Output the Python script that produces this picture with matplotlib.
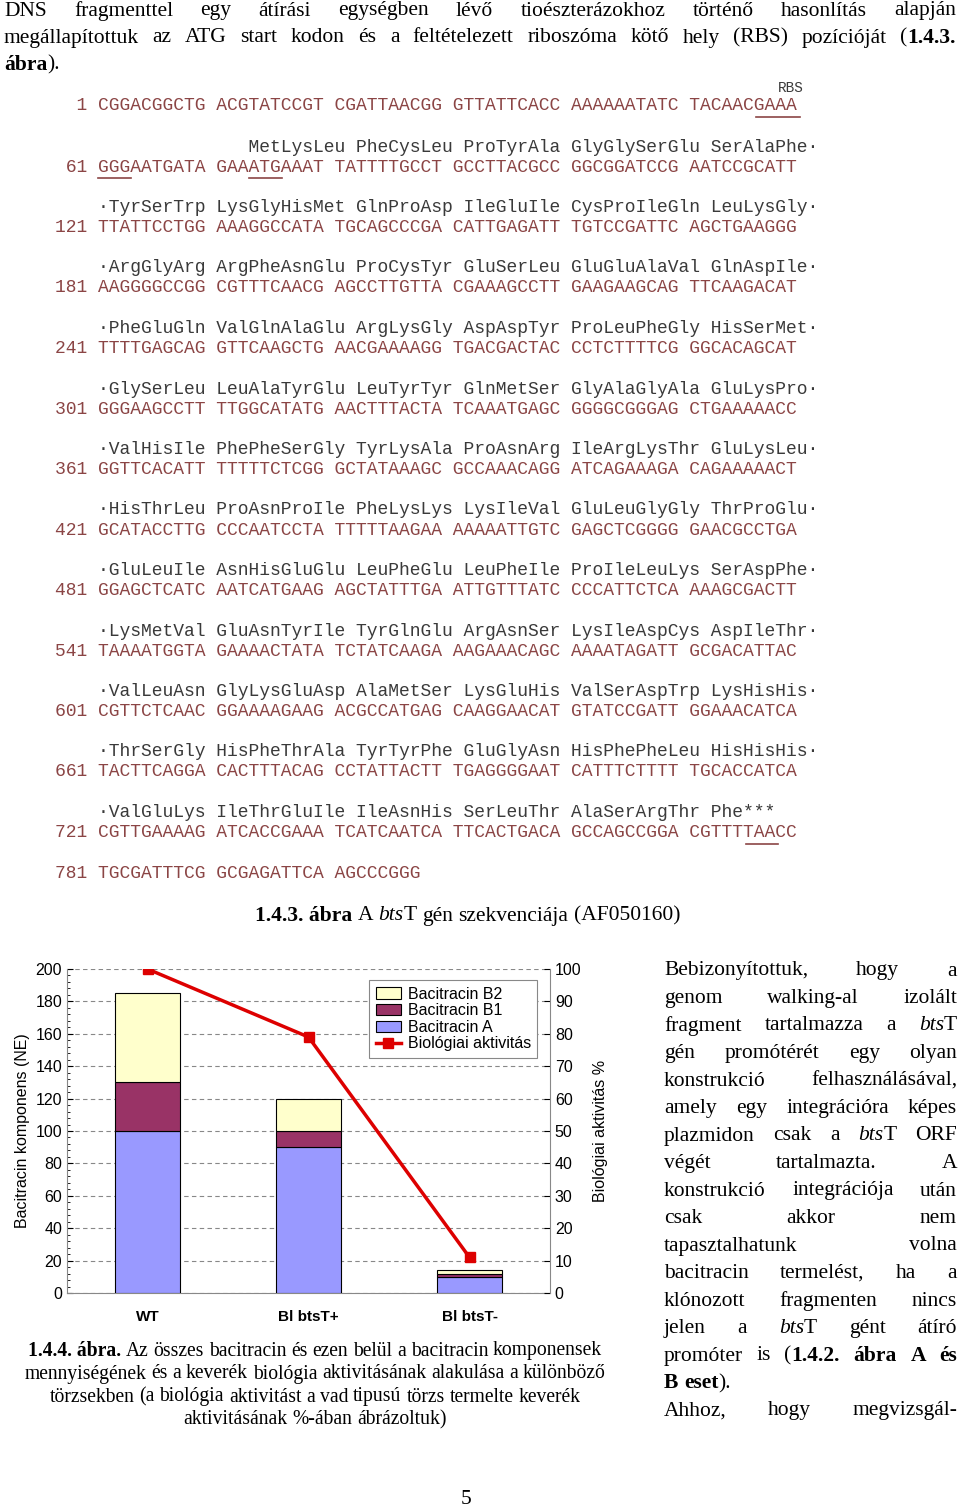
import matplotlib
matplotlib.use("Agg")
import matplotlib.pyplot as plt
import numpy as np

W, H = 960, 1509
SERIF = "Liberation Serif"
MONO = "Liberation Mono"
SANS = "Liberation Sans"

# ── chart data ───────────────────────────────────────────────────────────────
strains = ["WT", "Bl btsT+", "Bl btsT-"]
bac_a = [100, 90, 10]
bac_b1 = [30, 10, 2]
bac_b2 = [55, 20, 2]
activity = [100, 79, 11]

# ── sequence text ────────────────────────────────────────────────────────────
dna_start = [1, 61, 121, 181, 241, 301, 361, 421, 481, 541, 601, 661, 721, 781]
dna_rows = [
    "CGGACGGCTG ACGTATCCGT CGATTAACGG GTTATTCACC AAAAAATATC TACAACGAAA",
    "GGGAATGATA GAAATGAAAT TATTTTGCCT GCCTTACGCC GGCGGATCCG AATCCGCATT",
    "TTATTCCTGG AAAGGCCATA TGCAGCCCGA CATTGAGATT TGTCCGATTC AGCTGAAGGG",
    "AAGGGGCCGG CGTTTCAACG AGCCTTGTTA CGAAAGCCTT GAAGAAGCAG TTCAAGACAT",
    "TTTTGAGCAG GTTCAAGCTG AACGAAAAGG TGACGACTAC CCTCTTTTCG GGCACAGCAT",
    "GGGAAGCCTT TTGGCATATG AACTTTACTA TCAAATGAGC GGGGCGGGAG CTGAAAAACC",
    "GGTTCACATT TTTTTCTCGG GCTATAAAGC GCCAAACAGG ATCAGAAAGA CAGAAAAACT",
    "GCATACCTTG CCCAATCCTA TTTTTAAGAA AAAAATTGTC GAGCTCGGGG GAACGCCTGA",
    "GGAGCTCATC AATCATGAAG AGCTATTTGA ATTGTTTATC CCCATTCTCA AAAGCGACTT",
    "TAAAATGGTA GAAAACTATA TCTATCAAGA AAGAAACAGC AAAATAGATT GCGACATTAC",
    "CGTTCTCAAC GGAAAAGAAG ACGCCATGAG CAAGGAACAT GTATCCGATT GGAAACATCA",
    "TACTTCAGGA CACTTTACAG CCTATTACTT TGAGGGGAAT CATTTCTTTT TGCACCATCA",
    "CGTTGAAAAG ATCACCGAAA TCATCAATCA TTCACTGACA GCCAGCCGGA CGTTTTAACC",
    "TGCGATTTCG GCGAGATTCA AGCCCGGG",
]
prot_rows = [
    None,
    "                  MetLysLeu PheCysLeu ProTyrAla GlyGlySerGlu SerAlaPhe·",
    "    ·TyrSerTrp LysGlyHisMet GlnProAsp IleGluIle CysProIleGln LeuLysGly·",
    "    ·ArgGlyArg ArgPheAsnGlu ProCysTyr GluSerLeu GluGluAlaVal GlnAspIle·",
    "    ·PheGluGln ValGlnAlaGlu ArgLysGly AspAspTyr ProLeuPheGly HisSerMet·",
    "    ·GlySerLeu LeuAlaTyrGlu LeuTyrTyr GlnMetSer GlyAlaGlyAla GluLysPro·",
    "    ·ValHisIle PhePheSerGly TyrLysAla ProAsnArg IleArgLysThr GluLysLeu·",
    "    ·HisThrLeu ProAsnProIle PheLysLys LysIleVal GluLeuGlyGly ThrProGlu·",
    "    ·GluLeuIle AsnHisGluGlu LeuPheGlu LeuPheIle ProIleLeuLys SerAspPhe·",
    "    ·LysMetVal GluAsnTyrIle TyrGlnGlu ArgAsnSer LysIleAspCys AspIleThr·",
    "    ·ValLeuAsn GlyLysGluAsp AlaMetSer LysGluHis ValSerAspTrp LysHisHis·",
    "    ·ThrSerGly HisPheThrAla TyrTyrPhe GluGlyAsn HisPhePheLeu HisHisHis·",
    "    ·ValGluLys IleThrGluIle IleAsnHis SerLeuThr AlaSerArgThr Phe***",
    None,
]
# (row, first column, n chars) of underlined motifs, columns counted in the full line
underlines = [(0, 65, 4), (1, 4, 3), (1, 18, 3), (12, 64, 3)]

fig = plt.figure(figsize=(W / 100, H / 100), dpi=100)
fig.patch.set_facecolor("white")
renderer = fig.canvas.get_renderer()


def fx(x):
    return x / W


def fy(y):
    return 1 - y / H


def put_words(words, x0, y, size, x1=None, family=SERIF, color="black"):
    """words: list of words, each a list of (text, weight, style) pieces."""
    objs = []
    widths = []
    for word in words:
        wobjs = []
        ww = 0
        for txt, wt, st in word:
            t = fig.text(0, fy(y), txt, fontsize=size, family=family, weight=wt,
                         style=st, color=color, va="center", ha="left")
            w = t.get_window_extent(renderer).width
            wobjs.append((t, w))
            ww += w
        objs.append(wobjs)
        widths.append(ww)
    space = size * 100 / 72 * 0.25
    if x1 is not None and len(words) > 1:
        space = (x1 - x0 - sum(widths)) / (len(words) - 1)
    x = x0
    for wobjs in objs:
        for t, w in wobjs:
            t.set_x(fx(x))
            x += w
        x += space
    return x


def N(s):
    return [(s, "normal", "normal")]


def plain(line):
    return [N(w) for w in line.split()]


# ── header paragraph ─────────────────────────────────────────────────────────
HS = 15.5
put_words(plain("DNS fragmenttel egy átírási egységben lévő tioészterázokhoz történő hasonlítás alapján"),
          4, 11, HS, 956)
put_words(plain("megállapítottuk az ATG start kodon és a feltételezett riboszóma kötő hely (RBS) pozícióját")
          + [[("(", "normal", "normal"), ("1.4.3.", "bold", "normal")]], 4, 38, HS, 956)
put_words([[("ábra", "bold", "normal"), (").", "normal", "normal")]], 4, 65, HS)

# ── sequence listing ─────────────────────────────────────────────────────────
MS = 12.95
CW = MS * 100 / 72 * 0.6
X0 = 55
DNA_C = "#8b4545"
PROT_C = "#3a3a3a"
dna_y = [106] + [167 + 60.5 * i for i in range(12)] + [874]
fig.text(fx(X0 + CW * 67), fy(88), "RBS", family=MONO, fontsize=MS * 0.8,
         color=PROT_C, va="center", ha="left")
for i, (n, row) in enumerate(zip(dna_start, dna_rows)):
    fig.text(fx(X0), fy(dna_y[i]), f"{n:>3} {row}", family=MONO, fontsize=MS,
             color=DNA_C, va="center", ha="left")
    if prot_rows[i]:
        fig.text(fx(X0), fy(dna_y[i] - 20), prot_rows[i], family=MONO, fontsize=MS,
                 color=PROT_C, va="center", ha="left")
for r, c, n in underlines:
    y = dna_y[r] + 11
    fig.add_artist(plt.Line2D([fx(X0 + CW * c), fx(X0 + CW * (c + n))], [fy(y), fy(y)],
                              color=DNA_C, lw=1.2))

# caption of the sequence
put_words([[("1.4.3. ábra", "bold", "normal")], N("A"),
           [("bts", "normal", "italic"), ("T", "normal", "normal")], N("gén"),
           N("szekvenciája"), [("(AF050160)", "normal", "normal")]], 255, 916, HS)

# ── chart ────────────────────────────────────────────────────────────────────
ax = fig.add_axes([fx(67), fy(1293), (550 - 67) / W, (1293 - 969) / H])
x = np.arange(len(strains))
bw = 0.4
ax.bar(x, bac_a, bw, color="#9999ff", edgecolor="black", lw=0.8, label="Bacitracin A", zorder=3)
ax.bar(x, bac_b1, bw, bottom=bac_a, color="#993366", edgecolor="black", lw=0.8,
       label="Bacitracin B1", zorder=3)
ax.bar(x, bac_b2, bw, bottom=np.add(bac_a, bac_b1), color="#ffffcc", edgecolor="black",
       lw=0.8, label="Bacitracin B2", zorder=3)
ax.set_xlim(-0.5, 2.5)
ax.set_ylim(0, 200)
ax.set_yticks(range(0, 201, 20))
ax.set_yticks(range(0, 201, 4), minor=True)
ax.yaxis.grid(True, ls=(0, (4, 3)), color="#888888", lw=0.8)
ax.set_axisbelow(True)
ax.set_xticks(x)
ax.set_xticklabels(strains, fontsize=11, fontweight="bold", family=SANS)
ax.tick_params(axis="x", length=0, pad=12)
ax.tick_params(axis="y", labelsize=11.5, direction="in", length=4)
ax.tick_params(axis="y", which="minor", direction="in", length=2)
for lab in ax.get_yticklabels():
    lab.set_family(SANS)
for s in ["top", "right"]:
    ax.spines[s].set_visible(False)
ax.spines["left"].set_color("#888888")
ax.spines["bottom"].set_color("#888888")
ax.set_ylabel("Bacitracin komponens (NE)", fontsize=11.5, family=SANS, labelpad=4)

ax2 = ax.twinx()
ax2.plot(x, activity, color="#dd0000", lw=2.5, marker="s", ms=7, label="Biológiai aktivitás",
         zorder=5)
ax2.set_ylim(0, 100)
ax2.set_yticks(range(0, 101, 10))
ax2.tick_params(axis="y", labelsize=11.5, direction="in", length=4)
for lab in ax2.get_yticklabels():
    lab.set_family(SANS)
for s in ["top", "left"]:
    ax2.spines[s].set_visible(False)
ax2.spines["right"].set_color("#888888")
ax2.spines["bottom"].set_visible(False)
ax2.set_ylabel("Biológiai aktivitás %", fontsize=11.5, family=SANS, labelpad=8)

h1, l1 = ax.get_legend_handles_labels()
h2, l2 = ax2.get_legend_handles_labels()
leg = ax2.legend(h1[::-1] + h2, l1[::-1] + l2, loc="upper right", bbox_to_anchor=(0.99, 0.99),
                 fancybox=False, framealpha=1, edgecolor="#888888",
                 prop={"family": SANS, "size": 11.5}, handlelength=1.6, handletextpad=0.4,
                 labelspacing=0.1, borderpad=0.4)
leg.get_frame().set_linewidth(0.8)

# chart caption
CS = 14.1
cap = [
    [[("1.4.4. ábra.", "bold", "normal")]] + plain("Az összes bacitracin és ezen belül a bacitracin komponensek"),
    plain("mennyiségének és a keverék biológia aktivitásának alakulása a különböző"),
    plain("törzsekben  (a biológia aktivitást a vad tipusú törzs termelte keverék"),
    plain("aktivitásának %-ában ábrázoltuk)"),
]
for i, words in enumerate(cap):
    end = put_words(words, 0, 1351 + 23 * i, CS)
    width = end - CS * 100 / 72 * 0.25
    for t in fig.texts[-sum(len(w) for w in words):]:
        t.set_x(t.get_position()[0] + fx(315 - width / 2))

# ── right column ─────────────────────────────────────────────────────────────
RS = 15.5
bt = [("bts", "normal", "italic"), ("T", "normal", "normal")]
right = [
    (plain("Bebizonyítottuk, hogy a"), True),
    (plain("genom walking-al izolált"), True),
    (plain("fragment tartalmazza a") + [bt], True),
    (plain("gén promótérét egy olyan"), True),
    (plain("konstrukció felhasználásával,"), True),
    (plain("amely egy integrációra képes"), True),
    (plain("plazmidon csak a") + [bt] + plain("ORF"), True),
    (plain("végét tartalmazta. A"), True),
    (plain("konstrukció integrációja után"), True),
    (plain("csak akkor nem"), True),
    (plain("tapasztalhatunk volna"), True),
    (plain("bacitracin termelést, ha a"), True),
    (plain("klónozott fragmenten nincs"), True),
    (plain("jelen a") + [bt] + plain("gént átíró"), True),
    (plain("promóter is") + [[("(", "normal", "normal"), ("1.4.2.", "bold", "normal")],
                            [("ábra", "bold", "normal")], [("A", "bold", "normal")],
                            [("és", "bold", "normal")]], True),
    ([[("B", "bold", "normal")], [("eset", "bold", "normal"), (").", "normal", "normal")]], False),
    (plain("Ahhoz, hogy megvizsgál-"), True),
]
for i, (words, just) in enumerate(right):
    put_words(words, 664, 971 + 27.5 * i, RS, 957 if just else None)

fig.text(fx(466), fy(1500), "5", family=SERIF, fontsize=HS, va="center", ha="center")

fig.savefig("out.png", dpi=100)
